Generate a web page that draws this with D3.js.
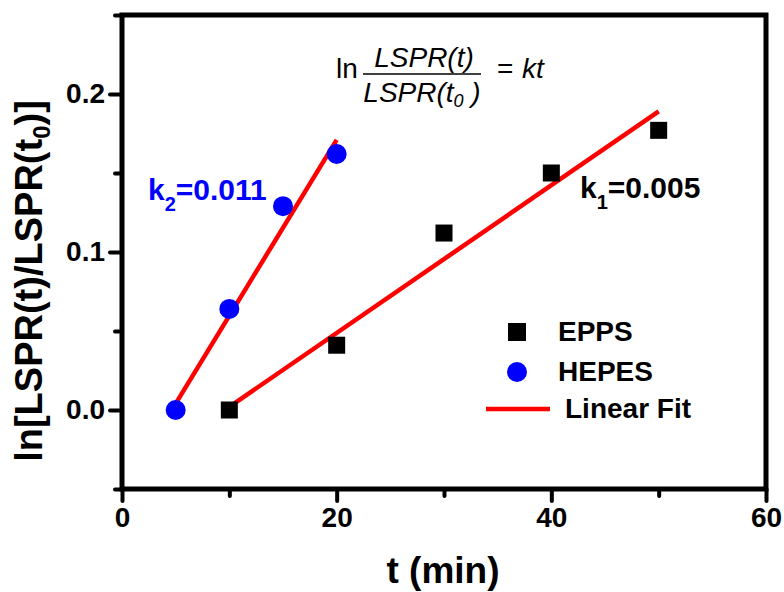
<!DOCTYPE html>
<html>
<head>
<meta charset="utf-8">
<script src="https://cdn.jsdelivr.net/npm/d3@7"></script>
<style>
    html, body { margin: 0; padding: 0; background: #fff; }
    svg { display: block; font-family: Arial, "Liberation Sans", sans-serif; }
</style>
</head>
<body>
<div id="chart"></div>
<script>
// data
let epps_t = [10, 20, 30, 40, 50];
let epps_y = [0, 0.041, 0.112, 0.150, 0.177];
let hepes_t = [5, 10, 15, 20];
let hepes_y = [0, 0.064, 0.129, 0.162];
let epps_fit_t = [10, 50];
let epps_fit_y = [0.002, 0.189];
let hepes_fit_t = [5, 20];
let hepes_fit_y = [0.004, 0.171];

let x_major = [0, 20, 40, 60];
let x_minor = [10, 30, 50];
let y_major = [0, 0.1, 0.2];
let y_minor = [-0.05, 0.05, 0.15, 0.25];

let legend_labels = ["EPPS", "HEPES", "Linear Fit"];

const BLUE = "#0000ff";
const RED = "#ff0000";

let _width = 784, _height = 592;
let _left = 122, _right = 766, _top = 15, _bottom = 489;

let _svg = d3.select("#chart")
    .append("svg")
    .attr("width", _width)
    .attr("height", _height);

let x = d3.scaleLinear().domain([0, 60]).range([_left, _right]);
let y = d3.scaleLinear().domain([-0.05, 0.25]).range([_bottom, _top]);

// axes (ticks only, frame drawn after)
let _x_minor = _svg.append("g")
    .attr("transform", "translate(0," + _bottom + ")")
    .call(d3.axisBottom(x).tickValues(x_minor).tickSize(7).tickSizeOuter(0).tickFormat(""));
let _x_major = _svg.append("g")
    .attr("transform", "translate(0," + _bottom + ")")
    .call(d3.axisBottom(x).tickValues(x_major).tickSize(12).tickPadding(6).tickSizeOuter(0).tickFormat(d3.format("d")));
let _y_minor = _svg.append("g")
    .attr("transform", "translate(" + _left + ",0)")
    .call(d3.axisLeft(y).tickValues(y_minor).tickSize(7).tickSizeOuter(0).tickFormat(""));
let _y_major = _svg.append("g")
    .attr("transform", "translate(" + _left + ",0)")
    .call(d3.axisLeft(y).tickValues(y_major).tickSize(12).tickPadding(5).tickSizeOuter(0).tickFormat(d3.format(".1f")));

[_x_minor, _x_major, _y_minor, _y_major].forEach(g => {
    g.select(".domain").remove();
    g.selectAll(".tick line")
        .attr("stroke", "#000")
        .attr("stroke-width", 4)
        .attr("stroke-linecap", "round");
    g.selectAll(".tick text")
        .attr("fill", "#000")
        .style("font-size", "28px")
        .style("font-weight", "bold")
        .style("font-family", "Arial, 'Liberation Sans', sans-serif");
});

// frame
_svg.append("rect")
    .attr("x", _left)
    .attr("y", _top)
    .attr("width", _right - _left)
    .attr("height", _bottom - _top)
    .attr("fill", "none")
    .attr("stroke", "#000")
    .attr("stroke-width", 5);

// fit lines
let _line = d3.line().x(d => x(d[0])).y(d => y(d[1]));
[[epps_fit_t, epps_fit_y], [hepes_fit_t, hepes_fit_y]].forEach(f => {
    _svg.append("path")
        .datum(d3.zip(f[0], f[1]))
        .attr("d", _line)
        .attr("fill", "none")
        .attr("stroke", RED)
        .attr("stroke-width", 4.5);
});

// EPPS squares
let _sq = 17;
_svg.selectAll("rect.epps")
    .data(d3.zip(epps_t, epps_y))
    .enter()
    .append("rect")
    .attr("class", "epps")
    .attr("x", d => x(d[0]) - _sq / 2)
    .attr("y", d => y(d[1]) - _sq / 2)
    .attr("width", _sq)
    .attr("height", _sq)
    .attr("fill", "#000");

// HEPES circles
_svg.selectAll("circle.hepes")
    .data(d3.zip(hepes_t, hepes_y))
    .enter()
    .append("circle")
    .attr("class", "hepes")
    .attr("cx", d => x(d[0]))
    .attr("cy", d => y(d[1]))
    .attr("r", 10)
    .attr("fill", BLUE);

// axis titles
_svg.append("text")
    .attr("x", 443)
    .attr("y", 583)
    .attr("text-anchor", "middle")
    .style("font-size", "37px")
    .style("font-weight", "bold")
    .text("t (min)");

let _ytitle = _svg.append("text")
    .attr("transform", "translate(42,281) rotate(-90)")
    .attr("text-anchor", "middle")
    .style("font-size", "38px")
    .style("font-weight", "bold");
_ytitle.append("tspan").text("ln[LSPR(t)/LSPR(t");
_ytitle.append("tspan").attr("dy", 8).style("font-size", "24px").text("0");
_ytitle.append("tspan").attr("dy", -8).text(")]");

// rate labels
let _k2 = _svg.append("text")
    .attr("x", 148)
    .attr("y", 200)
    .attr("fill", BLUE)
    .style("font-size", "30px")
    .style("font-weight", "bold");
_k2.append("tspan").text("k");
_k2.append("tspan").attr("dy", 11).style("font-size", "20px").text("2");
_k2.append("tspan").attr("dy", -11).text("=0.011");

let _k1 = _svg.append("text")
    .attr("x", 580)
    .attr("y", 198)
    .attr("fill", "#000")
    .style("font-size", "30px")
    .style("font-weight", "bold");
_k1.append("tspan").text("k");
_k1.append("tspan").attr("dy", 11).style("font-size", "20px").text("1");
_k1.append("tspan").attr("dy", -11).text("=0.005");

// formula
let _f = _svg.append("g").style("font-size", "28px");
_f.append("text").attr("x", 336).attr("y", 78).text("ln");
_f.append("text").attr("x", 424).attr("y", 67).attr("text-anchor", "middle")
    .style("font-style", "italic").text("LSPR(t)");
_f.append("line")
    .attr("x1", 363).attr("x2", 481)
    .attr("y1", 74).attr("y2", 74)
    .attr("stroke", "#000").attr("stroke-width", 1.5);
let _den = _f.append("text").attr("x", 422).attr("y", 102).attr("text-anchor", "middle")
    .style("font-style", "italic");
_den.append("tspan").text("LSPR(t");
_den.append("tspan").attr("dy", 5).style("font-size", "18px").text("0");
_den.append("tspan").attr("dy", -5).text(" )");
_f.append("text").attr("x", 497).attr("y", 78).text("=");
_f.append("text").attr("x", 522).attr("y", 78).style("font-style", "italic").text("kt");

// legend
let _legend = _svg.append("g").style("font-size", "28px").style("font-weight", "bold");
_legend.append("rect")
    .attr("x", 517 - 9).attr("y", 332 - 9)
    .attr("width", 18).attr("height", 18)
    .attr("fill", "#000");
_legend.append("text").attr("x", 558).attr("y", 341).text(legend_labels[0]);
_legend.append("circle")
    .attr("cx", 517).attr("cy", 372).attr("r", 10)
    .attr("fill", BLUE);
_legend.append("text").attr("x", 558).attr("y", 381).text(legend_labels[1]);
_legend.append("line")
    .attr("x1", 486).attr("x2", 550)
    .attr("y1", 409).attr("y2", 409)
    .attr("stroke", RED).attr("stroke-width", 4.5);
_legend.append("text").attr("x", 565).attr("y", 418).text(legend_labels[2]);
</script>
</body>
</html>
